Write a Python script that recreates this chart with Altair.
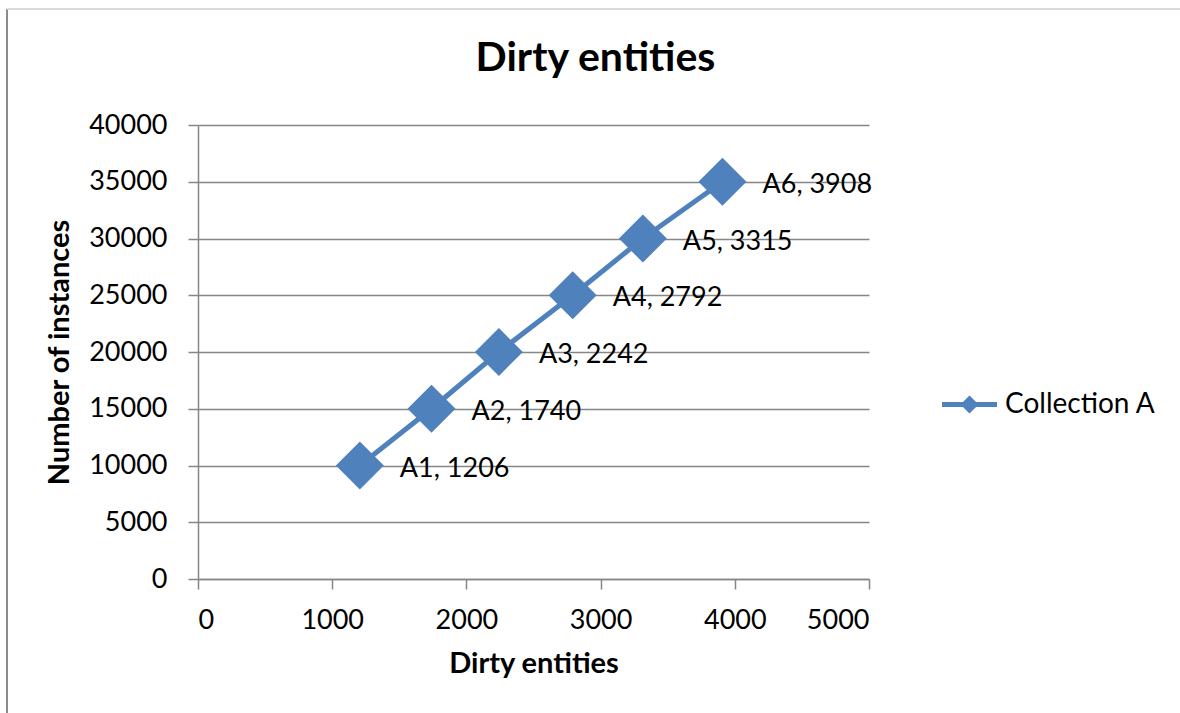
import altair as alt
import pandas as pd

names = ["A1", "A2", "A3", "A4", "A5", "A6"]
dirty_entities = [1206, 1740, 2242, 2792, 3315, 3908]
instances = [10000, 15000, 20000, 25000, 30000, 35000]
series_name = "Collection A"
x_ticks = [0, 1000, 2000, 3000, 4000, 5000]
y_ticks = [0, 5000, 10000, 15000, 20000, 25000, 30000, 35000, 40000]

df = pd.DataFrame({
    "name": names,
    "x": dirty_entities,
    "y": instances,
    "series": [series_name] * len(names),
})
df["label"] = [f"{n}, {v}" for n, v in zip(names, dirty_entities)]

BLUE = "#4F81BD"
GRAY = "#868686"
FONT = "Lato"

x_enc = alt.X("x:Q", scale=alt.Scale(domain=[0, 5000], nice=False),
              axis=alt.Axis(values=x_ticks, format="d", title="Dirty entities",
                            grid=False, tickSize=10, labelPadding=18,
                            titlePadding=16))
y_enc = alt.Y("y:Q", scale=alt.Scale(domain=[0, 40000], nice=False),
              axis=alt.Axis(values=y_ticks, format="d", title="Number of  instances",
                            grid=True, tickSize=10, labelPadding=21,
                            titlePadding=14))

line = alt.Chart(df).mark_line(color=BLUE, strokeWidth=5).encode(x=x_enc, y=y_enc)

legend_path = ("M-1,-0.09H1V0.09H-1Z "
               "M-0.33,0L0,-0.33L0.33,0L0,0.33Z")

points = alt.Chart(df).mark_point(shape="diamond", filled=True, size=2300,
                                  opacity=1, strokeWidth=0).encode(
    x="x:Q", y="y:Q",
    color=alt.Color("series:N", scale=alt.Scale(range=[BLUE]),
                    legend=alt.Legend(title=None, orient="none",
                                      legendX=744, legendY=252,
                                      symbolType=legend_path, symbolSize=3025,
                                      symbolStrokeWidth=0, symbolOpacity=1,
                                      labelFont=FONT, labelFontSize=28,
                                      labelColor="#000000", labelOffset=8,
                                      padding=0)),
)

labels = alt.Chart(df).mark_text(align="left", baseline="middle", dx=40, dy=3,
                                 font=FONT, fontSize=27, color="#000000").encode(
    x="x:Q", y="y:Q", text="label:N")

frame_left = alt.Chart(df).mark_rule(color="#8c8c8c", strokeWidth=2).encode(
    x=alt.value(-191), y=alt.value(-116), y2=alt.value(600))
frame_top = alt.Chart(df).mark_rule(color="#d9d9d9", strokeWidth=2).encode(
    x=alt.value(-191), x2=alt.value(990), y=alt.value(-116))

chart = alt.layer(frame_left, frame_top, line, points, labels).properties(
    width=671, height=454,
    title=alt.TitleParams("Dirty entities", font=FONT, fontSize=41,
                          fontWeight="bold", color="#000000", anchor="middle",
                          dx=62, baseline="alphabetic", offset=-104),
    autosize=alt.AutoSizeParams(type="none"),
    padding={"left": 198, "top": 125, "right": 311, "bottom": 134},
).configure(background="white").configure_view(stroke=None).configure_axis(
    domainColor=GRAY, domainWidth=1.5, tickColor=GRAY, tickWidth=1.5,
    gridColor=GRAY, gridWidth=1.5, gridOpacity=1,
    labelFont=FONT, labelFontSize=27, labelColor="#000000",
    titleFont=FONT, titleFontSize=29, titleFontWeight="bold", titleColor="#000000",
)

chart.save("out.html", embed_options={"renderer": "svg", "actions": False})
